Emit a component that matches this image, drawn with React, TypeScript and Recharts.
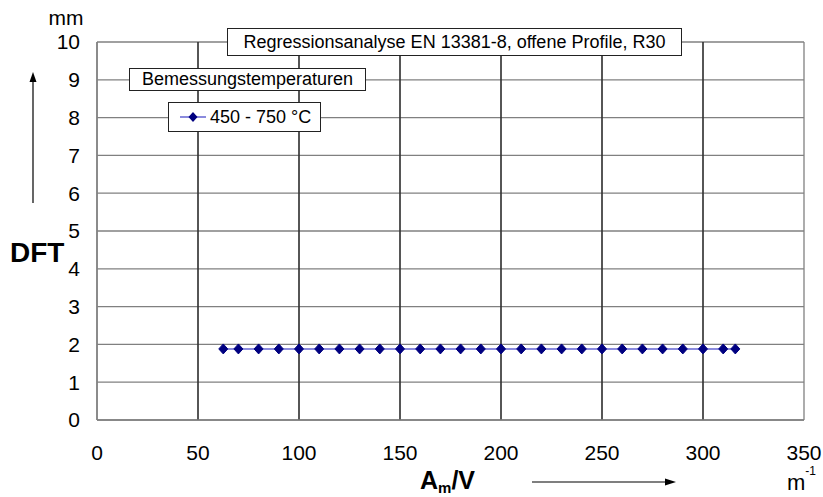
import {
  ComposedChart,
  Line,
  XAxis,
  YAxis,
  CartesianGrid,
  ReferenceLine,
} from 'recharts';

const amv = [62.5, 70, 80, 90, 100, 110, 120, 130, 140, 150, 160, 170, 180, 190, 200, 210, 220, 230, 240, 250, 260, 270, 280, 290, 300, 310, 316];
const dft = [1.88, 1.88, 1.88, 1.88, 1.88, 1.88, 1.88, 1.88, 1.88, 1.88, 1.88, 1.88, 1.88, 1.88, 1.88, 1.88, 1.88, 1.88, 1.88, 1.88, 1.88, 1.88, 1.88, 1.88, 1.88, 1.88, 1.88];

const xTicks = [0, 50, 100, 150, 200, 250, 300, 350];
const yTicks = [0, 1, 2, 3, 4, 5, 6, 7, 8, 9, 10];
const innerX = [50, 100, 150, 200, 250, 300];

const chartTitle = 'Regressionsanalyse EN 13381-8, offene Profile, R30';
const legendTitle = 'Bemessungstemperaturen';
const seriesName = '450 - 750 °C';

const data = amv.map((x, i) => ({ amv: x, dft: dft[i] }));

const FONT = '"Liberation Sans", Arial, sans-serif';

const Diamond = (props: any) => {
  const { cx, cy } = props;
  if (cx == null || cy == null) return null;
  return (
    <path
      d={`M${cx},${cy - 5} L${cx + 4.5},${cy} L${cx},${cy + 5} L${cx - 4.5},${cy} Z`}
      fill="#000080"
      stroke="#000080"
    />
  );
};

const boxStyle: any = {
  position: 'absolute',
  background: '#fff',
  border: '1px solid #222',
  boxSizing: 'border-box',
  fontFamily: FONT,
  color: '#000',
  display: 'flex',
  alignItems: 'center',
  justifyContent: 'center',
  whiteSpace: 'nowrap',
};

export default function App() {
  return (
    <div style={{ position: 'absolute', left: 0, top: 0, width: 823, height: 497, background: '#fff' }}>
      <ComposedChart
        width={823}
        height={497}
        data={data}
        margin={{ top: 42, right: 19, bottom: 47, left: 37 }}
      >
        <CartesianGrid stroke="#808080" strokeWidth={1.3} />
        {innerX.map((v) => (
          <ReferenceLine key={v} x={v} stroke="#000" strokeWidth={1} />
        ))}
        <XAxis
          dataKey="amv"
          type="number"
          domain={[0, 350]}
          ticks={xTicks}
          interval={0}
          height={30}
          tickLine={false}
          tickSize={0}
          tickMargin={25}
          axisLine={{ stroke: '#808080', strokeWidth: 1.5 }}
          tick={{ fill: '#000', fontSize: 21, fontFamily: FONT }}
        />
        <YAxis
          type="number"
          domain={[0, 10]}
          ticks={yTicks}
          interval={0}
          width={60}
          tickLine={false}
          tickSize={0}
          tickMargin={17}
          axisLine={{ stroke: '#808080', strokeWidth: 1.5 }}
          tick={{ fill: '#000', fontSize: 21, fontFamily: FONT }}
        />
        <Line
          type="linear"
          dataKey="dft"
          name={seriesName}
          stroke="#6464d2"
          strokeWidth={1.5}
          dot={<Diamond />}
          activeDot={false}
          isAnimationActive={false}
        />
      </ComposedChart>

      <svg
        width={823}
        height={497}
        style={{ position: 'absolute', left: 0, top: 0, pointerEvents: 'none' }}
        fontFamily={FONT}
      >
        <text x={66} y={25} fontSize={21} textAnchor="middle">mm</text>
        <line x1={33} y1={203} x2={33} y2={80} stroke="#000" strokeWidth={1.2} />
        <path d="M33,72 L29.5,82 L36.5,82 Z" fill="#000" />
        <text x={10} y={262} fontSize={28} fontWeight="bold">DFT</text>

        <text x={420} y={489} fontSize={25} fontWeight="bold">
          A<tspan fontSize={15} dy={4}>m</tspan>
          <tspan dy={-4}>/V</tspan>
        </text>
        <line x1={532} y1={482} x2={668} y2={482} stroke="#000" strokeWidth={1.2} />
        <path d="M676,482 L665,478.5 L665,485.5 Z" fill="#000" />
        <text x={787} y={490} fontSize={22}>
          m<tspan fontSize={12} dy={-15}>-1</tspan>
        </text>
      </svg>

      <div style={{ ...boxStyle, left: 227, top: 28, width: 455, height: 28, fontSize: 18 }}>
        {chartTitle}
      </div>
      <div style={{ ...boxStyle, left: 129, top: 68, width: 237, height: 23, fontSize: 18 }}>
        {legendTitle}
      </div>
      <div style={{ ...boxStyle, left: 168, top: 102, width: 153, height: 30, fontSize: 18, justifyContent: 'flex-start', paddingLeft: 11 }}>
        <svg width={28} height={12} style={{ marginRight: 2 }}>
          <line x1={0} y1={6} x2={26} y2={6} stroke="#6464d2" strokeWidth={1.5} />
          <path d="M13,1 L17.5,6 L13,11 L8.5,6 Z" fill="#000080" />
        </svg>
        <span>{seriesName}</span>
      </div>
    </div>
  );
}
